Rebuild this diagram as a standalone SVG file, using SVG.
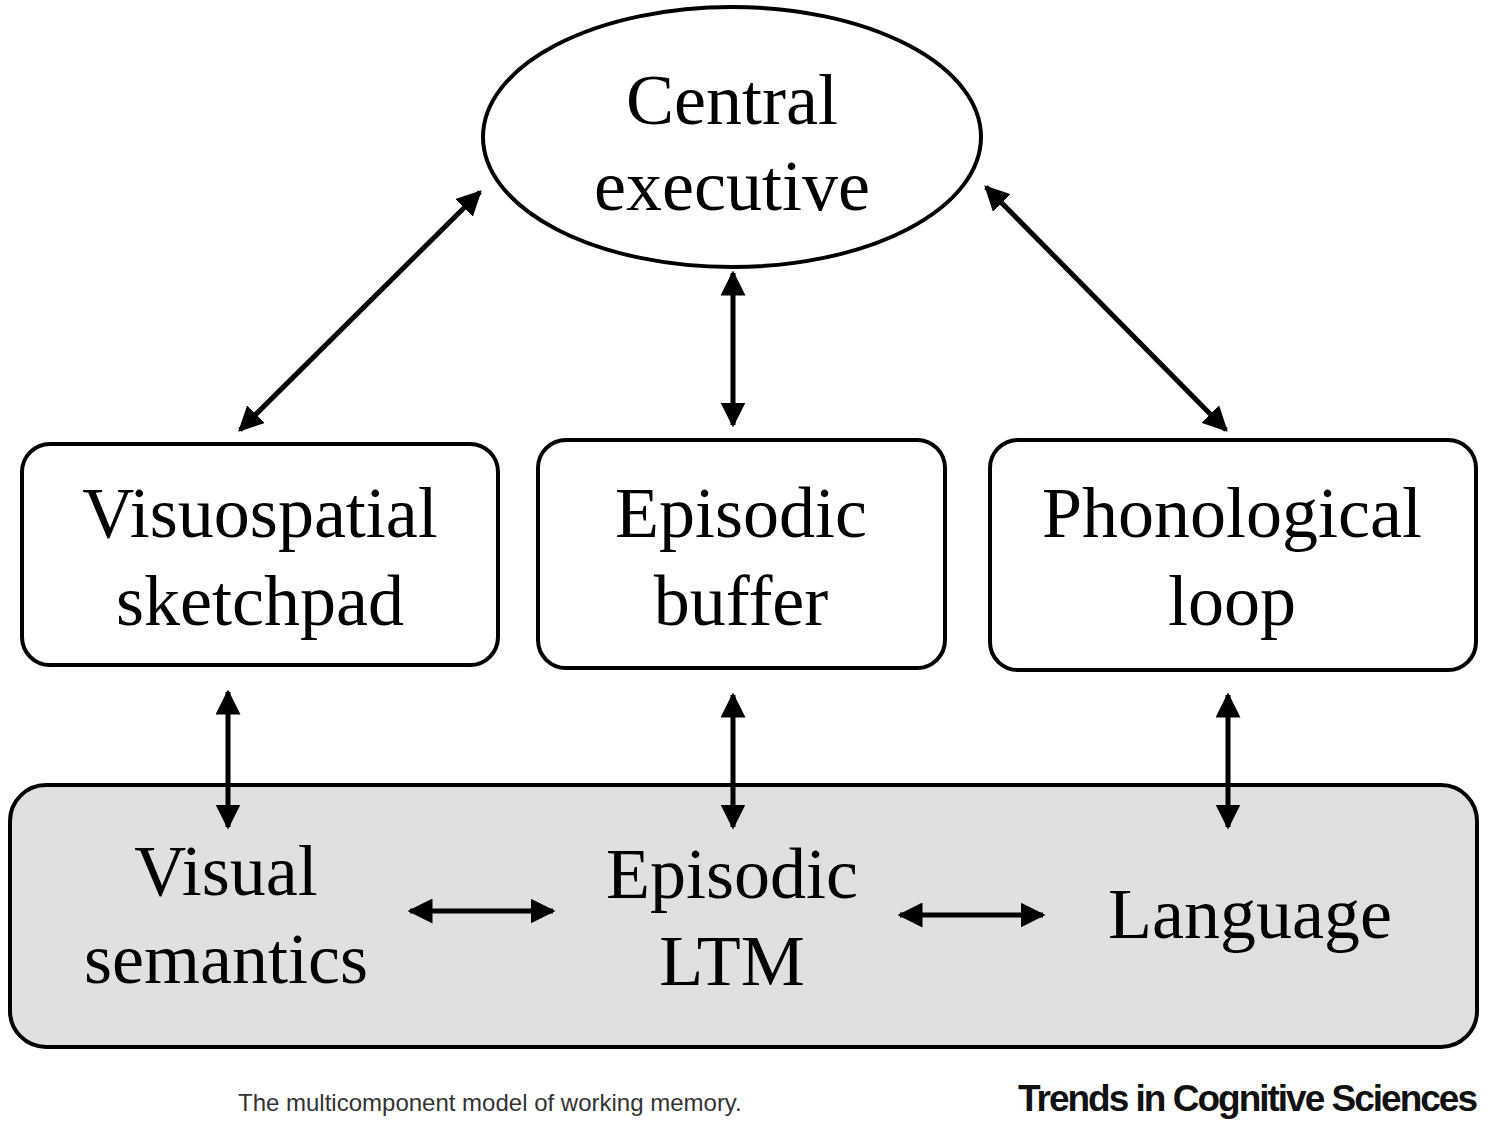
<svg xmlns="http://www.w3.org/2000/svg" width="1488" height="1133" viewBox="0 0 1488 1133">
<style>
.n{fill:#fff;stroke:#000;stroke-width:4}
.t{font-family:"Liberation Serif",serif;font-size:72px;text-anchor:middle;fill:#000}
.c{stroke:#000;stroke-width:5;fill:none;marker-start:url(#a);marker-end:url(#a)}
</style>
<defs>
<marker id="a" viewBox="0 0 10 10" refX="9" refY="5" markerWidth="5" markerHeight="5" orient="auto-start-reverse" markerUnits="strokeWidth">
<path d="M0,0 L10,5 L0,10 z" fill="#000"/>
</marker>
</defs>
<rect width="1488" height="1133" fill="#fff"/>
<g id="central">
<ellipse class="n" cx="732" cy="137" rx="249" ry="130"/>
<text class="t" x="732" y="124">Central</text>
<text class="t" x="732" y="210">executive</text>
</g>
<g id="visuospatial">
<rect class="n" x="22" y="444" width="476" height="221" rx="28"/>
<text class="t" x="260" y="537">Visuospatial</text>
<text class="t" x="260" y="625">sketchpad</text>
</g>
<g id="episodic-buffer">
<rect class="n" x="538" y="440" width="407" height="228" rx="28"/>
<text class="t" x="741" y="537">Episodic</text>
<text class="t" x="741" y="625">buffer</text>
</g>
<g id="phonological">
<rect class="n" x="990" y="440" width="486" height="230" rx="28"/>
<text class="t" x="1232" y="537">Phonological</text>
<text class="t" x="1232" y="625">loop</text>
</g>
<g id="ltm">
<rect x="10" y="785" width="1467" height="262" rx="36" fill="#e0e0e0" stroke="#000" stroke-width="4"/>
<text class="t" x="226" y="895">Visual</text>
<text class="t" x="226" y="983">semantics</text>
<text class="t" x="732" y="898">Episodic</text>
<text class="t" x="732" y="985">LTM</text>
<text class="t" x="1250" y="938">Language</text>
</g>
<g id="connectors">
<line class="c" x1="240" y1="430" x2="480" y2="192"/>
<line class="c" x1="733" y1="273" x2="733" y2="425"/>
<line class="c" x1="986" y1="187" x2="1226" y2="430"/>
<line class="c" x1="228" y1="692" x2="228" y2="827"/>
<line class="c" x1="733" y1="695" x2="733" y2="827"/>
<line class="c" x1="1228" y1="695" x2="1228" y2="827"/>
<line class="c" x1="410" y1="911" x2="553" y2="911"/>
<line class="c" x1="900" y1="915" x2="1043" y2="915"/>
</g>
<text x="238" y="1111" font-family="Liberation Sans,Arial,sans-serif" font-size="24" fill="#333">The multicomponent model of working memory.</text>
<text x="1476" y="1111" text-anchor="end" font-family="Liberation Sans,Arial,sans-serif" font-size="37" font-weight="bold" letter-spacing="-2" fill="#111">Trends in Cognitive Sciences</text>
</svg>
